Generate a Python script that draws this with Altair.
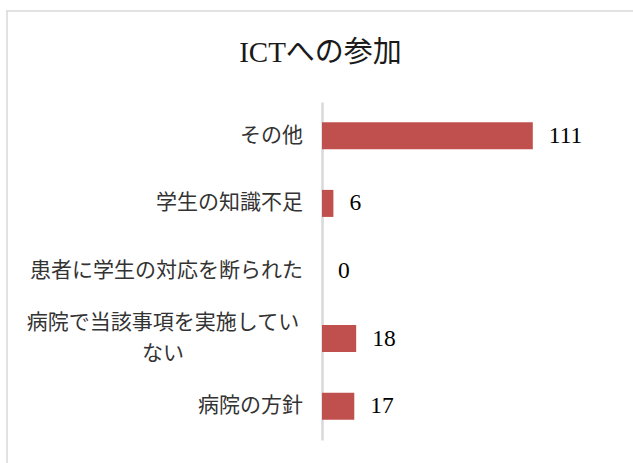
import altair as alt
import pandas as pd

title_text = "ICTへの参加"
categories = ["その他", "学生の知識不足", "患者に学生の対応を断られた", "病院で当該事項を実施していない", "病院の方針"]
display_labels = ["その他", "学生の知識不足", "患者に学生の対応を断られた", "病院で当該事項を実施してい\nない", "病院の方針"]
wrapped = [False, False, False, True, False]
values = [111, 6, 0, 18, 17]

df = pd.DataFrame({"cat": categories, "label": display_labels, "wrapped": wrapped, "value": values})

W, H = 226, 338
y_enc = alt.Y("cat:N", sort=categories,
              scale=alt.Scale(paddingInner=0.6, paddingOuter=0.3),
              axis=alt.Axis(labels=False, ticks=False, title=None, grid=False,
                            domainColor="#d9d9d9", domainWidth=2.5))
x_enc = alt.X("value:Q", scale=alt.Scale(domain=[0, 119], nice=False), axis=None)

base = alt.Chart(df)

frame = alt.Chart(pd.DataFrame({"k": [1]})).mark_rect(
    fillOpacity=0, stroke="#d9d9d9", strokeWidth=1.5, clip=False
).encode(x=alt.value(-315), x2=alt.value(400), y=alt.value(-91), y2=alt.value(420))

bars = base.mark_bar(color="#C0504D").encode(x=x_enc, y=y_enc)

vals = base.mark_text(align="left", baseline="middle", dx=16, font="Liberation Serif",
                      fontSize=23.5, color="#000000").encode(x=x_enc, y=y_enc, text="value:Q")

labels_right = base.transform_filter("!datum.wrapped").mark_text(
    align="right", baseline="middle", font="Noto Sans CJK JP", fontSize=21, color="#333333"
).encode(x=alt.value(-19), y=y_enc, text="label:N")

labels_center = base.transform_filter("datum.wrapped").mark_text(
    align="center", baseline="middle", font="Noto Sans CJK JP", fontSize=21, color="#333333",
    lineBreak="\n", lineHeight=31, dy=-15.5
).encode(x=alt.value(-159), y=y_enc, text="label:N")

title = alt.Chart(pd.DataFrame({"t": [title_text]})).mark_text(
    align="center", baseline="alphabetic", font="Liberation Serif, Noto Sans CJK JP",
    fontSize=29, color="#1a1a1a"
).encode(x=alt.value(-1.5), y=alt.value(-40), text="t:N")

chart = alt.layer(frame, bars, vals, labels_right, labels_center, title).properties(
    width=W, height=H,
    padding={"left": 322, "top": 102, "right": 633 - 322 - W, "bottom": 463 - 102 - H},
    autosize=alt.AutoSizeParams(type="none"),
    background="white",
).configure_view(stroke=None)

chart.save("out.html", embed_options={"renderer": "svg", "actions": False})
